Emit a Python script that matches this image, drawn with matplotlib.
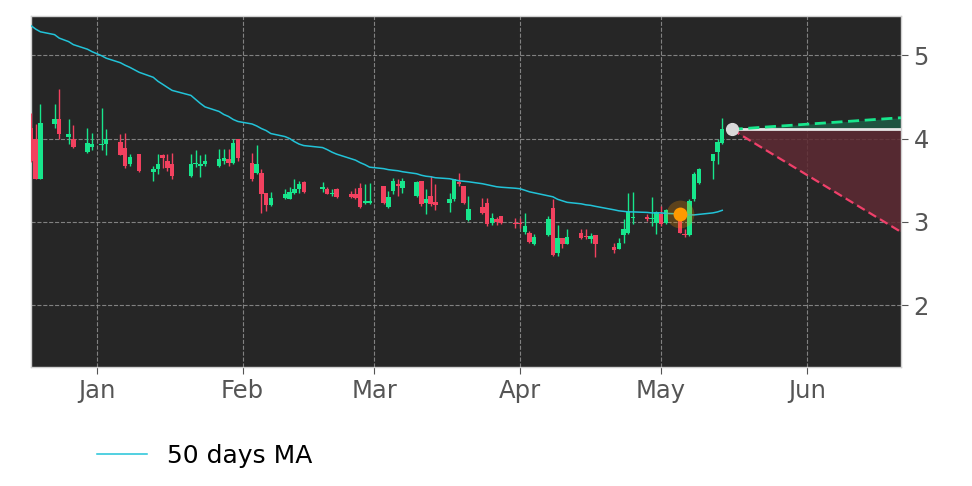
import matplotlib
matplotlib.use("Agg")
import matplotlib.pyplot as plt
import matplotlib.dates as mdates
import numpy as np
import pandas as pd

dates = ["2024-12-18","2024-12-19","2024-12-20","2024-12-23","2024-12-24","2024-12-26","2024-12-27",
         "2024-12-30","2024-12-31","2025-01-02","2025-01-03","2025-01-06","2025-01-07","2025-01-08",
         "2025-01-10","2025-01-13","2025-01-14","2025-01-15","2025-01-16","2025-01-17","2025-01-21",
         "2025-01-22","2025-01-23","2025-01-24","2025-01-27","2025-01-28","2025-01-29","2025-01-30",
         "2025-01-31","2025-02-03","2025-02-04","2025-02-05","2025-02-06","2025-02-07","2025-02-10",
         "2025-02-11","2025-02-12","2025-02-13","2025-02-14","2025-02-18","2025-02-19","2025-02-20",
         "2025-02-21","2025-02-24","2025-02-25","2025-02-26","2025-02-27","2025-02-28","2025-03-03",
         "2025-03-04","2025-03-05","2025-03-06","2025-03-07","2025-03-10","2025-03-11","2025-03-12",
         "2025-03-13","2025-03-14","2025-03-17","2025-03-18","2025-03-19","2025-03-20","2025-03-21",
         "2025-03-24","2025-03-25","2025-03-26","2025-03-27","2025-03-28","2025-03-31","2025-04-01",
         "2025-04-02","2025-04-03","2025-04-04","2025-04-07","2025-04-08","2025-04-09","2025-04-10",
         "2025-04-11","2025-04-14","2025-04-15","2025-04-16","2025-04-17","2025-04-21","2025-04-22",
         "2025-04-23","2025-04-24","2025-04-25","2025-04-28","2025-04-29","2025-04-30","2025-05-01",
         "2025-05-02","2025-05-05","2025-05-06","2025-05-07","2025-05-08","2025-05-09","2025-05-12",
         "2025-05-13","2025-05-14"]

opens = [4.13,3.99,3.52,4.18,4.23,4.02,3.99,3.84,3.90,3.92,3.93,3.96,3.89,3.69,3.82,3.60,3.63,3.80,3.73,3.70,
         3.55,3.69,3.67,3.70,3.67,3.73,3.76,3.71,4.00,3.71,3.59,3.59,3.35,3.20,3.29,3.28,3.35,3.39,3.48,3.39,
         3.40,3.34,3.40,3.33,3.34,3.41,3.23,3.23,3.43,3.18,3.37,3.46,3.41,3.31,3.49,3.23,3.31,3.24,3.23,3.27,
         3.48,3.43,3.02,3.18,3.23,2.99,3.04,3.07,2.99,2.99,2.88,2.87,2.73,2.84,3.17,2.63,2.81,2.73,2.87,2.83,
         2.80,2.84,2.70,2.67,2.84,2.87,3.05,3.06,3.04,2.99,3.10,2.99,3.05,2.86,2.84,3.27,3.47,3.73,3.84,3.95]
highs = [4.31,4.17,4.41,4.41,4.60,4.23,4.16,4.13,4.07,4.37,4.11,4.05,4.07,3.82,3.82,3.67,3.82,3.82,3.82,3.83,
         3.82,3.86,3.80,3.82,3.87,3.88,3.88,4.00,4.00,3.83,3.92,3.63,3.35,3.36,3.40,3.42,3.52,3.49,3.49,3.48,
         3.42,3.40,3.41,3.37,3.41,3.47,3.46,3.47,3.43,3.37,3.53,3.52,3.53,3.49,3.49,3.40,3.55,3.46,3.35,3.52,
         3.59,3.43,3.31,3.29,3.29,3.11,3.06,3.07,3.05,3.05,3.11,2.89,2.86,3.07,3.28,2.96,2.81,2.92,2.92,2.92,
         2.87,2.84,2.75,2.81,3.04,3.35,3.36,3.10,3.30,3.13,3.19,3.16,3.10,2.92,3.28,3.60,3.65,3.82,4.00,4.25]
lows = [3.72,3.52,3.52,4.13,3.99,3.93,3.89,3.83,3.86,3.86,3.80,3.80,3.65,3.67,3.60,3.49,3.58,3.65,3.61,3.52,
        3.54,3.66,3.54,3.67,3.66,3.70,3.67,3.70,3.73,3.49,3.58,3.11,3.13,3.19,3.28,3.27,3.33,3.35,3.35,3.36,
        3.34,3.31,3.29,3.29,3.28,3.17,3.22,3.22,3.22,3.17,3.34,3.31,3.35,3.30,3.19,3.10,3.19,3.14,3.12,3.25,
        3.43,3.22,3.01,3.10,2.95,2.96,2.96,2.98,2.93,2.93,2.86,2.75,2.72,2.83,2.59,2.59,2.69,2.73,2.80,2.80,
        2.75,2.58,2.63,2.67,2.75,2.86,2.98,3.01,2.95,2.86,2.95,2.98,2.87,2.82,2.83,3.25,3.46,3.52,3.69,3.93]
closes = [3.73,3.52,4.19,4.23,4.05,4.05,3.90,3.95,3.93,3.94,3.99,3.80,3.67,3.78,3.61,3.63,3.69,3.77,3.65,3.55,
          3.70,3.70,3.70,3.73,3.76,3.77,3.71,3.95,3.77,3.52,3.70,3.34,3.20,3.29,3.34,3.36,3.39,3.46,3.36,3.42,
          3.34,3.35,3.30,3.30,3.29,3.18,3.25,3.25,3.23,3.30,3.49,3.43,3.49,3.48,3.22,3.28,3.22,3.20,3.28,3.51,
          3.45,3.23,3.16,3.11,2.97,3.05,3.00,2.99,2.98,2.98,2.95,2.76,2.82,3.04,2.60,2.81,2.73,2.82,2.81,2.82,
          2.83,2.73,2.66,2.75,2.92,3.13,3.06,3.04,3.05,3.12,2.98,3.14,2.87,2.84,3.25,3.57,3.64,3.82,3.96,4.11]
ma50 = [5.355,5.313,5.281,5.247,5.205,5.163,5.127,5.072,5.042,4.994,4.964,4.910,4.880,4.855,4.795,4.735,4.687,
        4.651,4.614,4.578,4.518,4.470,4.422,4.380,4.325,4.289,4.265,4.229,4.205,4.175,4.151,4.120,4.096,4.060,
        4.024,4.000,3.964,3.934,3.916,3.892,3.867,3.837,3.813,3.759,3.741,3.711,3.687,3.657,3.639,3.627,3.620,
        3.614,3.602,3.578,3.560,3.548,3.542,3.530,3.518,3.506,3.494,3.488,3.482,3.458,3.446,3.434,3.422,3.416,
        3.404,3.398,3.380,3.361,3.349,3.313,3.301,3.271,3.253,3.235,3.217,3.205,3.199,3.187,3.145,3.133,3.127,
        3.120,3.120,3.114,3.108,3.108,3.108,3.102,3.096,3.090,3.084,3.084,3.090,3.108,3.120,3.139]

signal_date = "2025-05-05"
signal_value = 3.09
forecast_dates = ["2025-05-16", "2025-06-21"]
forecast_base = [4.11, 4.11]
forecast_high = [4.11, 4.25]
forecast_low = [4.11, 2.88]

x_start, x_end = "2024-12-18", "2025-06-21"
y_ticks = [2, 3, 4, 5]

UP = "#17e68c"
DOWN = "#f2415f"
MA_COL = "#22c3d8"

d = pd.to_datetime(dates)
xn = mdates.date2num(d)
o = np.array(opens); h = np.array(highs); l = np.array(lows); c = np.array(closes)
up = c >= o
cols = np.where(up, UP, DOWN)

fig = plt.figure(figsize=(9.72, 4.86), dpi=100)
ax = fig.add_axes([0.0319, 0.245, 0.895, 0.722])
ax.set_facecolor("#262626")

ax.vlines(xn, l, h, colors=cols, linewidth=1.0, zorder=3)
bottoms = np.minimum(o, c)
heights = np.maximum(np.abs(c - o), 0.012)
ax.bar(xn, heights, bottom=bottoms, width=0.95, color=cols, linewidth=0, zorder=4)

ma_line, = ax.plot(xn, ma50, color=MA_COL, linewidth=1.1, zorder=5, label="50 days MA")

fx = mdates.date2num(pd.to_datetime(forecast_dates))
ax.fill_between(fx, forecast_base, forecast_high, color="#1d5c45", alpha=0.85, linewidth=0, zorder=2)
ax.fill_between(fx, forecast_base, forecast_low, color="#5e2a33", alpha=0.85, linewidth=0, zorder=2)
ax.plot(fx, forecast_base, color="#e6e6e6", linewidth=2, zorder=6)
ax.plot(fx, forecast_high, color=UP, linewidth=2, linestyle=(0, (4, 2)), zorder=6)
ax.plot(fx, forecast_low, color="#f0406a", linewidth=1.6, linestyle=(0, (4, 2)), zorder=6)
ax.plot(fx[0], forecast_base[0], "o", color="#d9d9d9", markersize=8.5, zorder=8)

sx = mdates.date2num(pd.to_datetime(signal_date))
ax.plot(sx, signal_value, "o", color="#ff9900", markersize=20, alpha=0.25, markeredgewidth=0, zorder=7)
ax.plot(sx, signal_value, "o", color="#ff9900", markersize=10, markeredgewidth=0, zorder=8)

ax.set_xlim(mdates.date2num(pd.Timestamp(x_start)), mdates.date2num(pd.Timestamp(x_end)))
ax.set_ylim(1.26, 5.47)
ax.set_yticks(y_ticks)
ax.yaxis.tick_right()
ax.xaxis.set_major_locator(mdates.MonthLocator())
ax.xaxis.set_major_formatter(mdates.DateFormatter("%b"))
ax.tick_params(axis="both", labelsize=17.5, colors="#555555", length=5, width=0.8, pad=4)
ax.grid(True, color="#8c8c8c", linestyle="--", linewidth=0.8, alpha=0.9)
ax.set_axisbelow(True)
for s in ax.spines.values():
    s.set_color("#d0d0d0")
    s.set_linewidth(1)

fig.legend(handles=[ma_line], labels=["50 days MA"], loc="center left",
           bbox_to_anchor=(0.077, 0.062), frameon=False, fontsize=18, handlelength=2.0,
           handletextpad=0.8)

fig.savefig("out.png", dpi=100, facecolor="white")
